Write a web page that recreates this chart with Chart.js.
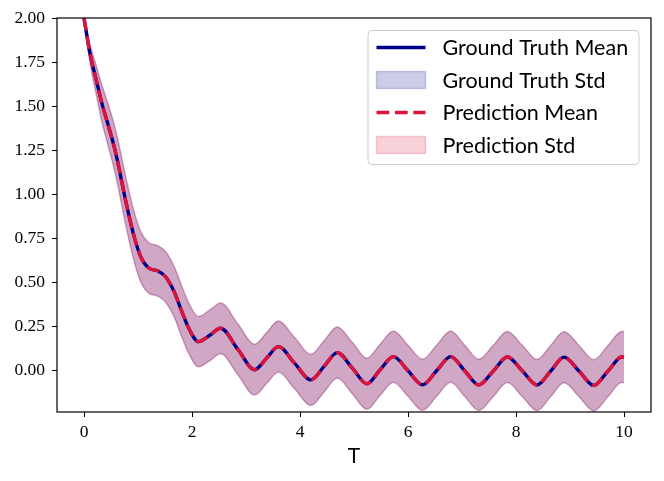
<!DOCTYPE html>
<html>
<head>
<meta charset="utf-8">
<script src="https://cdn.jsdelivr.net/npm/chart.js@4.4.0/dist/chart.umd.min.js"></script>
<style>
  html, body { margin: 0; padding: 0; background: #fff; }
  #wrap { width: 664px; height: 481px; }
</style>
</head>
<body>
<div id="wrap"><canvas id="chart" width="664" height="481"></canvas></div>
<script>
// time points (extrema + points between them)
const tValues = [0, 0.11, 0.22, 0.34, 0.45, 0.55, 0.62, 0.77, 0.92, 1.05, 1.2, 1.36, 1.51, 1.67, 1.8, 1.94,
  2.12, 2.33, 2.53, 2.85, 3.16, 3.38, 3.6, 3.9, 4.2, 4.45, 4.69, 4.97, 5.24, 5.48, 5.73, 6.0, 6.27, 6.53,
  6.79, 7.05, 7.31, 7.58, 7.84, 8.12, 8.39, 8.64, 8.89, 9.17, 9.44, 9.7, 9.96, 10.0];

const gtMean = [2.0, 1.80, 1.657, 1.506, 1.39, 1.28, 1.19, 0.966, 0.77, 0.646, 0.582, 0.566, 0.532, 0.447, 0.344, 0.24,
  0.164, 0.20, 0.24, 0.12, 0.005, 0.07, 0.136, 0.042, -0.053, 0.025, 0.102, 0.014, -0.075, 0.003, 0.079, -0.001, -0.081, -0.001,
  0.079, -0.001, -0.081, -0.002, 0.077, -0.003, -0.082, -0.004, 0.076, -0.004, -0.084, -0.004, 0.077, 0.076];

const gtStd = [0, 0.05, 0.08, 0.105, 0.118, 0.125, 0.13, 0.137, 0.14, 0.142, 0.143, 0.143, 0.143, 0.143, 0.143, 0.143,
  0.143, 0.144, 0.144, 0.144, 0.144, 0.144, 0.145, 0.145, 0.145, 0.145, 0.145, 0.145, 0.145, 0.145, 0.145, 0.145, 0.145, 0.145,
  0.145, 0.145, 0.145, 0.145, 0.145, 0.145, 0.145, 0.145, 0.145, 0.145, 0.145, 0.145, 0.145, 0.145];

const predMean = [2.0, 1.80, 1.657, 1.506, 1.39, 1.28, 1.19, 0.966, 0.77, 0.646, 0.582, 0.566, 0.532, 0.447, 0.344, 0.24,
  0.164, 0.20, 0.24, 0.12, 0.005, 0.07, 0.136, 0.042, -0.053, 0.025, 0.102, 0.014, -0.075, 0.003, 0.079, -0.001, -0.081, -0.001,
  0.079, -0.001, -0.081, -0.002, 0.077, -0.003, -0.082, -0.004, 0.076, -0.004, -0.084, -0.004, 0.077, 0.076];

const predStd = [0, 0.05, 0.08, 0.105, 0.118, 0.125, 0.13, 0.137, 0.14, 0.142, 0.143, 0.143, 0.143, 0.143, 0.143, 0.143,
  0.143, 0.144, 0.144, 0.144, 0.144, 0.144, 0.145, 0.145, 0.145, 0.145, 0.145, 0.145, 0.145, 0.145, 0.145, 0.145, 0.145, 0.145,
  0.145, 0.145, 0.145, 0.145, 0.145, 0.145, 0.145, 0.145, 0.145, 0.145, 0.145, 0.145, 0.145, 0.145];

const xTicks = [0, 2, 4, 6, 8, 10];
const yTicks = [0, 0.25, 0.5, 0.75, 1.0, 1.25, 1.5, 1.75, 2.0];

const NAVY = '#00008b';
const CRIMSON = '#dc143c';
const NAVY_FILL = 'rgba(0,0,139,0.2)';
const CRIMSON_FILL = 'rgba(220,20,60,0.2)';
const SERIF = "'Liberation Serif', serif";
const SANS = "Lato, 'Liberation Sans', sans-serif";

function band(mean, std, sign) {
  return tValues.map((t, i) => ({ x: t, y: mean[i] + sign * std[i] }));
}
function line(mean) {
  return tValues.map((t, i) => ({ x: t, y: mean[i] }));
}

// full box round the plot like matplotlib spines
const frame = {
  id: 'frame',
  afterDatasetsDraw(chart) {
    const { ctx, chartArea: a } = chart;
    ctx.save();
    ctx.strokeStyle = '#000';
    ctx.lineWidth = 1.2;
    ctx.strokeRect(a.left, a.top, a.right - a.left, a.bottom - a.top);
    ctx.restore();
  }
};

// legend box in the top right corner of the plot
const boxLegend = {
  id: 'boxLegend',
  afterDraw(chart) {
    const { ctx, chartArea: a } = chart;
    const w = 271, h = 134;
    const x0 = a.right - 12 - w, y0 = a.top + 12.5;
    const r = 4;
    ctx.save();
    ctx.beginPath();
    ctx.moveTo(x0 + r, y0);
    ctx.arcTo(x0 + w, y0, x0 + w, y0 + h, r);
    ctx.arcTo(x0 + w, y0 + h, x0, y0 + h, r);
    ctx.arcTo(x0, y0 + h, x0, y0, r);
    ctx.arcTo(x0, y0, x0 + w, y0, r);
    ctx.closePath();
    ctx.fillStyle = 'rgba(255,255,255,0.8)';
    ctx.fill();
    ctx.strokeStyle = '#cccccc';
    ctx.lineWidth = 1;
    ctx.stroke();

    const ds = chart.data.datasets;
    const items = [ds[4], ds[1], ds[5], ds[3]];
    const hx = x0 + 8.5, hw = 49;
    ctx.font = '21.5px ' + SANS;
    ctx.textBaseline = 'middle';
    ctx.textAlign = 'left';
    items.forEach((d, i) => {
      const cy = y0 + 17 + i * 32.5;
      if (d.fill) {
        ctx.fillStyle = d.backgroundColor;
        ctx.fillRect(hx, cy - 8.5, hw, 17);
        ctx.strokeStyle = d.borderColor;
        ctx.lineWidth = 1.4;
        ctx.strokeRect(hx, cy - 8.5, hw, 17);
      } else {
        ctx.beginPath();
        ctx.setLineDash(d.borderDash || []);
        ctx.strokeStyle = d.borderColor;
        ctx.lineWidth = d.borderWidth;
        ctx.moveTo(hx, cy);
        ctx.lineTo(hx + hw, cy);
        ctx.stroke();
        ctx.setLineDash([]);
      }
      ctx.fillStyle = '#000';
      ctx.fillText(d.label, x0 + 74.5, cy + 1);
    });
    ctx.restore();
  }
};

new Chart(document.getElementById('chart'), {
  type: 'line',
  data: {
    datasets: [
      { label: 'gt upper', data: band(gtMean, gtStd, 1), borderColor: NAVY_FILL, borderWidth: 1.4, fill: false, order: 5 },
      { label: 'Ground Truth Std', data: band(gtMean, gtStd, -1), borderColor: NAVY_FILL, backgroundColor: NAVY_FILL, borderWidth: 1.4, fill: '-1', order: 4 },
      { label: 'pred upper', data: band(predMean, predStd, 1), borderColor: CRIMSON_FILL, borderWidth: 1.4, fill: false, order: 3 },
      { label: 'Prediction Std', data: band(predMean, predStd, -1), borderColor: CRIMSON_FILL, backgroundColor: CRIMSON_FILL, borderWidth: 1.4, fill: '-1', order: 2 },
      { label: 'Ground Truth Mean', data: line(gtMean), borderColor: NAVY, borderWidth: 3.4, fill: false, order: 1 },
      { label: 'Prediction Mean', data: line(predMean), borderColor: CRIMSON, borderWidth: 3.4, borderDash: [12.8, 5.6], fill: false, order: 0 }
    ]
  },
  options: {
    responsive: false,
    animation: false,
    layout: { padding: { left: 0, top: 18, right: 13, bottom: 0 } },
    elements: {
      line: { cubicInterpolationMode: 'monotone' },
      point: { radius: 0 }
    },
    plugins: { legend: { display: false }, tooltip: { enabled: false } },
    scales: {
      x: {
        type: 'linear',
        min: -0.5,
        max: 10.5,
        afterFit: s => { s.height = 69; },
        afterBuildTicks: s => { s.ticks = xTicks.map(v => ({ value: v })); },
        grid: { drawOnChartArea: false, drawTicks: true, tickLength: 5, tickColor: '#000', lineWidth: 1 },
        border: { display: false },
        ticks: { autoSkip: false, maxRotation: 0, padding: 5, color: '#000', font: { family: SERIF, size: 17.5 }, callback: v => String(v) },
        title: { display: true, text: 'T', color: '#000', font: { family: SANS, size: 21 }, padding: { top: 0, bottom: 12 } }
      },
      y: {
        type: 'linear',
        min: -0.235,
        max: 2.0,
        afterFit: s => { s.width = 57; },
        afterBuildTicks: s => { s.ticks = yTicks.map(v => ({ value: v })); },
        grid: { drawOnChartArea: false, drawTicks: true, tickLength: 5, tickColor: '#000', lineWidth: 1 },
        border: { display: false },
        ticks: { autoSkip: false, padding: 7, color: '#000', font: { family: SERIF, size: 17.5 }, callback: v => v.toFixed(2) }
      }
    }
  },
  plugins: [frame, boxLegend]
});
</script>
</body>
</html>
